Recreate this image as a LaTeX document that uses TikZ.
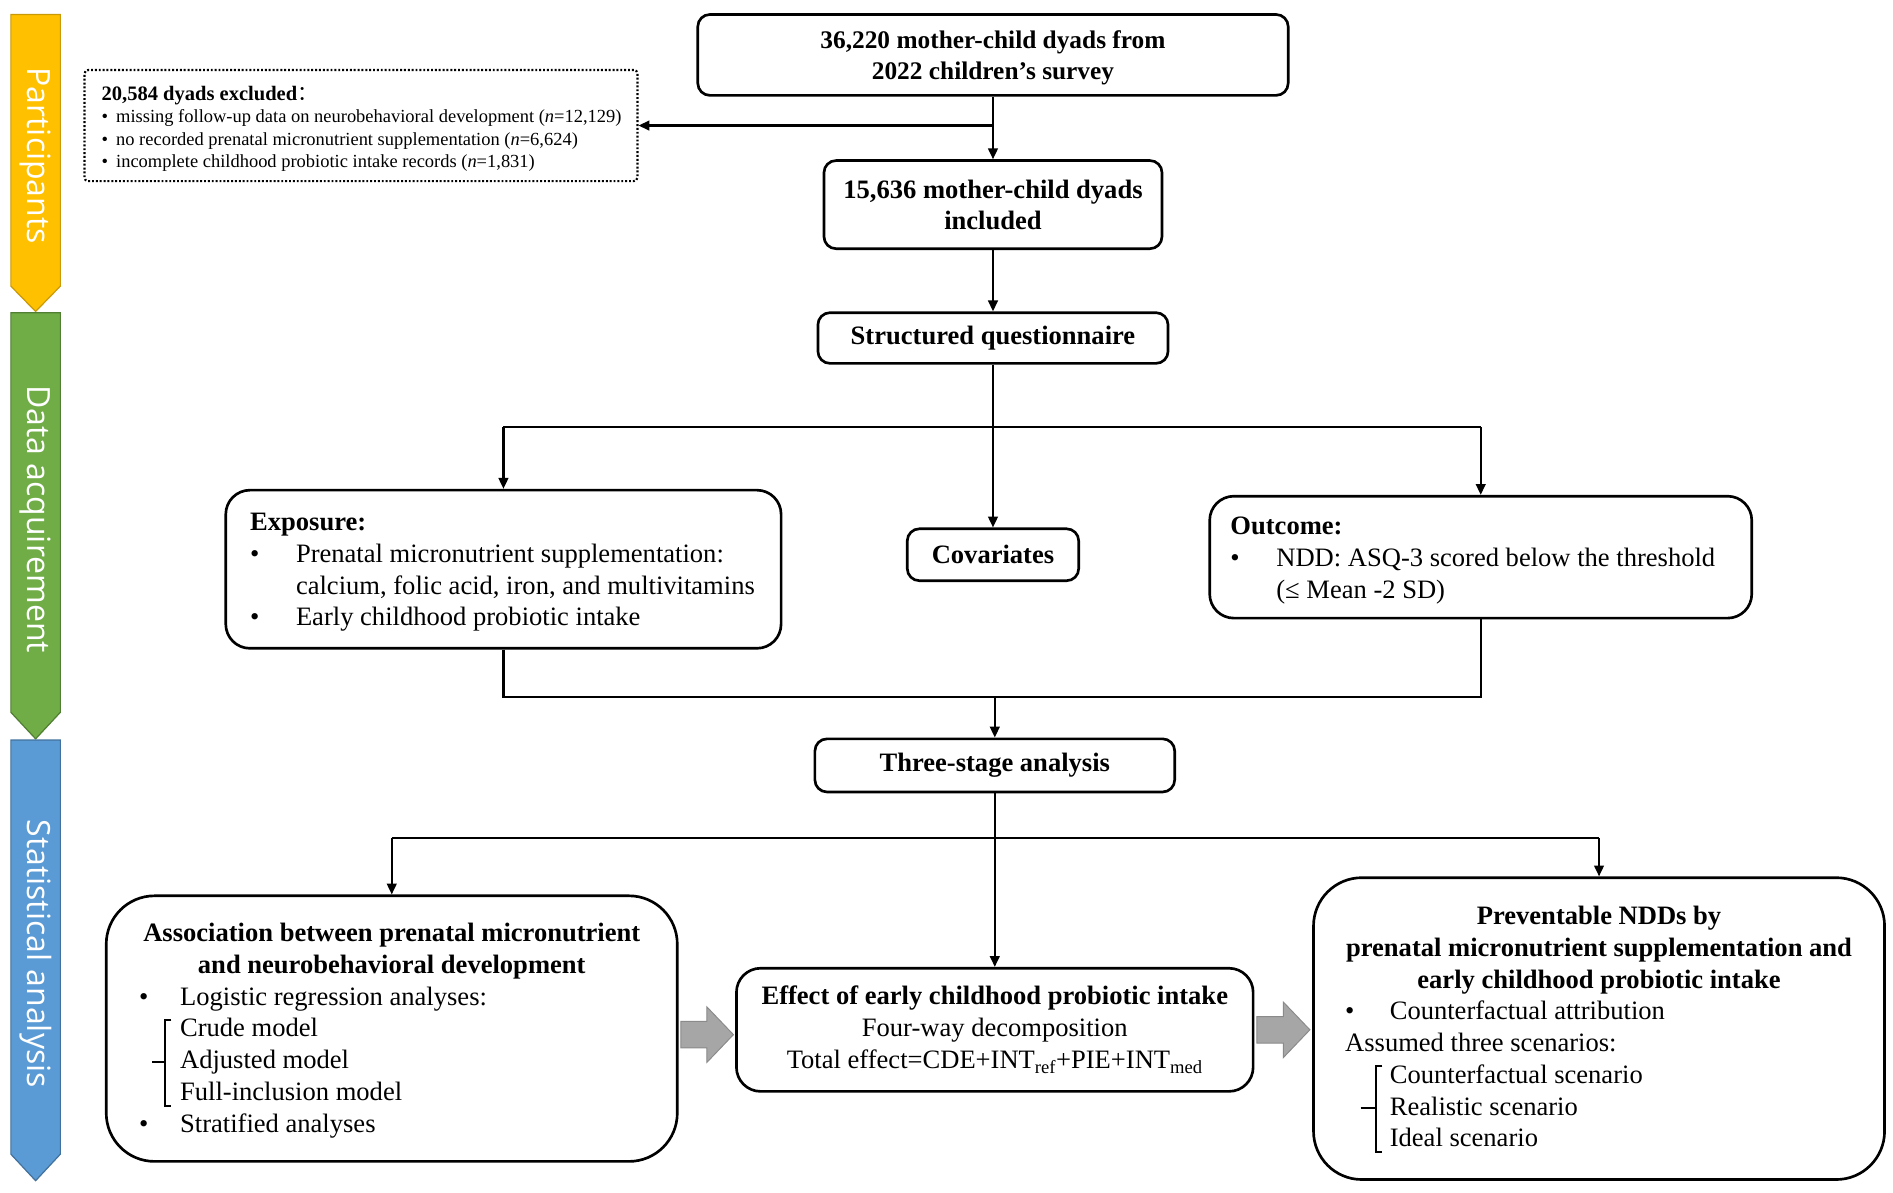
\documentclass[tikz,border=0pt]{standalone}
\usepackage{fontspec}
\setmainfont{Liberation Serif}
\newfontfamily\barfont{Open Sans}
\newfontfamily\cjkfont{Noto Sans CJK SC}
\usetikzlibrary{arrows.meta}
\definecolor{ybar}{HTML}{FFC000}
\definecolor{ybord}{HTML}{C99A06}
\definecolor{gbar}{HTML}{70AD47}
\definecolor{gbord}{HTML}{507E32}
\definecolor{bbar}{HTML}{5B9BD5}
\definecolor{bbord}{HTML}{41719C}
\definecolor{garfill}{HTML}{A6A6A6}
\definecolor{garbord}{HTML}{8A8A8A}
\begin{document}
\begin{tikzpicture}[x=1pt,y=-1pt,
  box/.style={draw, line width=2.2pt, rounded corners=10pt, inner sep=0pt, align=center,
    font=\bfseries\fontsize{22}{25.5}\selectfont},
  txt/.style={inner sep=0pt, align=left, anchor=north west, font=\fontsize{22}{26.3}\selectfont},
  ttl/.style={inner sep=0pt, align=center, font=\bfseries\fontsize{22}{26.5}\selectfont},
  conn/.style={line width=1.8pt, -{Triangle[length=9pt,width=8pt]}},
  plain/.style={line width=1.8pt},
  brk/.style={line width=1.6pt},
  bartext/.style={inner sep=0pt, text=white, rotate=-90, font=\barfont\fontsize{26.5}{30}\selectfont},
  garrow/.style={draw=garbord, fill=garfill, line width=0.8pt, line join=miter}
]
\useasboundingbox (0,0) rectangle (1568,988);

% side bars
\draw[fill=ybar, draw=ybord, line width=1pt] (9,12) -- (50,12) -- (50,237) -- (29.5,258) -- (9,237) -- cycle;
\draw[fill=gbar, draw=gbord, line width=1pt] (9,259) -- (50,259) -- (50,590) -- (29.5,612) -- (9,590) -- cycle;
\draw[fill=bbar, draw=bbord, line width=1pt] (9,613) -- (50,613) -- (50,956) -- (29.5,978) -- (9,956) -- cycle;
\node[bartext] (lp) at (29.5,129) {Participants};
\node[bartext] (ld) at (29.5,430) {Data acquirement};
\node[bartext] (ls) at (29.5,790) {Statistical analysis};

% boxes
\node[box, minimum width=489pt, minimum height=67pt] (n1) at (822.5,45.5) {};
\node[ttl, font=\bfseries\fontsize{21}{25.5}\selectfont] (n1txt) at (822.5,48) {36,220 mother-child dyads from\\2022 children’s survey};
\node[draw, line width=1.8pt, dash pattern=on 1.6pt off 1.6pt, rounded corners=3pt, minimum width=458pt, minimum height=92pt, inner sep=0pt] (excl) at (299,104) {};
\node[inner sep=0pt, anchor=north west, align=left, font=\fontsize{15.3}{18.6}\selectfont] (excltxt) at (84,71)
 {{\bfseries\fontsize{17}{18.6}\selectfont 20,584 dyads excluded{\cjkfont\mdseries ：}}\\
  \makebox[12pt][l]{\textbullet}missing follow-up data on neurobehavioral development (\textit{n}=12,129)\\
  \makebox[12pt][l]{\textbullet}no recorded prenatal micronutrient supplementation (\textit{n}=6,624)\\
  \makebox[12pt][l]{\textbullet}incomplete childhood probiotic intake records (\textit{n}=1,831)};
\node[box, minimum width=280pt, minimum height=73pt] (n2) at (822.5,169.5) {15,636 mother-child dyads\\included};
\node[box, minimum width=290pt, minimum height=42pt] (sq) at (822.5,280) {Structured questionnaire};

\node[box, rounded corners=20pt, minimum width=460pt, minimum height=131pt] (expo) at (417,471.5) {};
\node[txt] (expotxt) at (207,425)
 {{\bfseries Exposure:}\\
  \makebox[38pt][l]{\textbullet}Prenatal micronutrient supplementation:\\
  \makebox[38pt][l]{}calcium, folic acid, iron, and multivitamins\\
  \makebox[38pt][l]{\textbullet}Early childhood probiotic intake};
\node[box, minimum width=142pt, minimum height=43pt] (cov) at (822.5,459.5) {Covariates};
\node[box, rounded corners=20pt, minimum width=449pt, minimum height=101pt] (outc) at (1226.5,461.5) {};
\node[txt] (outctxt) at (1019,428)
 {{\bfseries Outcome:}\\
  \makebox[38pt][l]{\textbullet}NDD: ASQ-3 scored below the threshold\\
  \makebox[38pt][l]{}(≤ Mean -2 SD)};

\node[box, minimum width=298pt, minimum height=44pt] (tsa) at (824,634) {Three-stage analysis};

\node[box, rounded corners=40pt, minimum width=473pt, minimum height=220pt] (assoc) at (324.5,852) {};
\node[ttl] (assocttl) at (324.5,788) {Association between prenatal micronutrient\\and neurobehavioral development};
\node[txt] (assoctxt) at (115,817)
 {\makebox[34pt][l]{\textbullet}Logistic regression analyses:\\
  \makebox[34pt][l]{}Crude model\\
  \makebox[34pt][l]{}Adjusted model\\
  \makebox[34pt][l]{}Full-inclusion model\\
  \makebox[34pt][l]{\textbullet}Stratified analyses};

\node[box, rounded corners=20pt, minimum width=428pt, minimum height=102pt, font=\fontsize{22}{26.5}\selectfont] (eff) at (824,853)
 {{\bfseries\fontsize{22}{26.5}\selectfont Effect of early childhood probiotic intake}\\
  Four-way decomposition\\
  Total effect=CDE+INT\textsubscript{ref}+PIE+INT\textsubscript{med}};

\node[box, rounded corners=40pt, minimum width=473pt, minimum height=250pt] (prev) at (1324.5,852) {};
\node[ttl] (prevttl) at (1324.5,787) {Preventable NDDs by\\prenatal micronutrient supplementation and\\early childhood probiotic intake};
\node[txt] (prevtxt) at (1114,829)
 {\makebox[37pt][l]{\textbullet}Counterfactual attribution\\
  Assumed three scenarios:\\
  \makebox[37pt][l]{}Counterfactual scenario\\
  \makebox[37pt][l]{}Realistic scenario\\
  \makebox[37pt][l]{}Ideal scenario};

% brackets
\draw[brk] (142,845) -- (137,845) -- (137,916) -- (142,916);
\draw[brk] (126,880) -- (137,880);
\draw[brk] (1145,883) -- (1140,883) -- (1140,954) -- (1145,954);
\draw[brk] (1127,918) -- (1140,918);

% gray block arrows
\coordinate (ga1) at (564,857);
\draw[garrow] (ga1) ++(0,-11) -- ++(21.5,0) -- ++(0,-12) -- ++(22,23) -- ++(-22,23) -- ++(0,-12) -- ++(-21.5,0) -- cycle;
\coordinate (ga2) at (1041,853);
\draw[garrow] (ga2) ++(0,-11) -- ++(22,0) -- ++(0,-12) -- ++(22,23) -- ++(-22,23) -- ++(0,-12) -- ++(-22,0) -- cycle;

% connectors
\draw[conn] (n1.south) -- (n2.north);
\draw[conn] (n1.south |- excl.east) -- (excl.east);
\draw[conn] (n2.south) -- (sq.north);
\draw[conn] (sq.south) -- (cov.north);
\coordinate (split1) at (822.5,354);
\draw[plain] (split1 -| expo.north) -- (split1 -| outc.north);
\draw[conn] (split1 -| expo.north) -- (expo.north);
\draw[conn] (split1 -| outc.north) -- (outc.north);
\coordinate (join1) at (824,577);
\draw[plain] (expo.south) |- (join1 -| outc.south) -- (outc.south);
\draw[conn] (join1) -- (tsa.north);
\coordinate (split2) at (824,694);
\draw[conn] (tsa.south) -- (eff.north);
\draw[plain] (split2 -| assoc.north) -- (split2 -| prev.north);
\draw[conn] (split2 -| assoc.north) -- (assoc.north);
\draw[conn] (split2 -| prev.north) -- (prev.north);
\end{tikzpicture}
\end{document}
